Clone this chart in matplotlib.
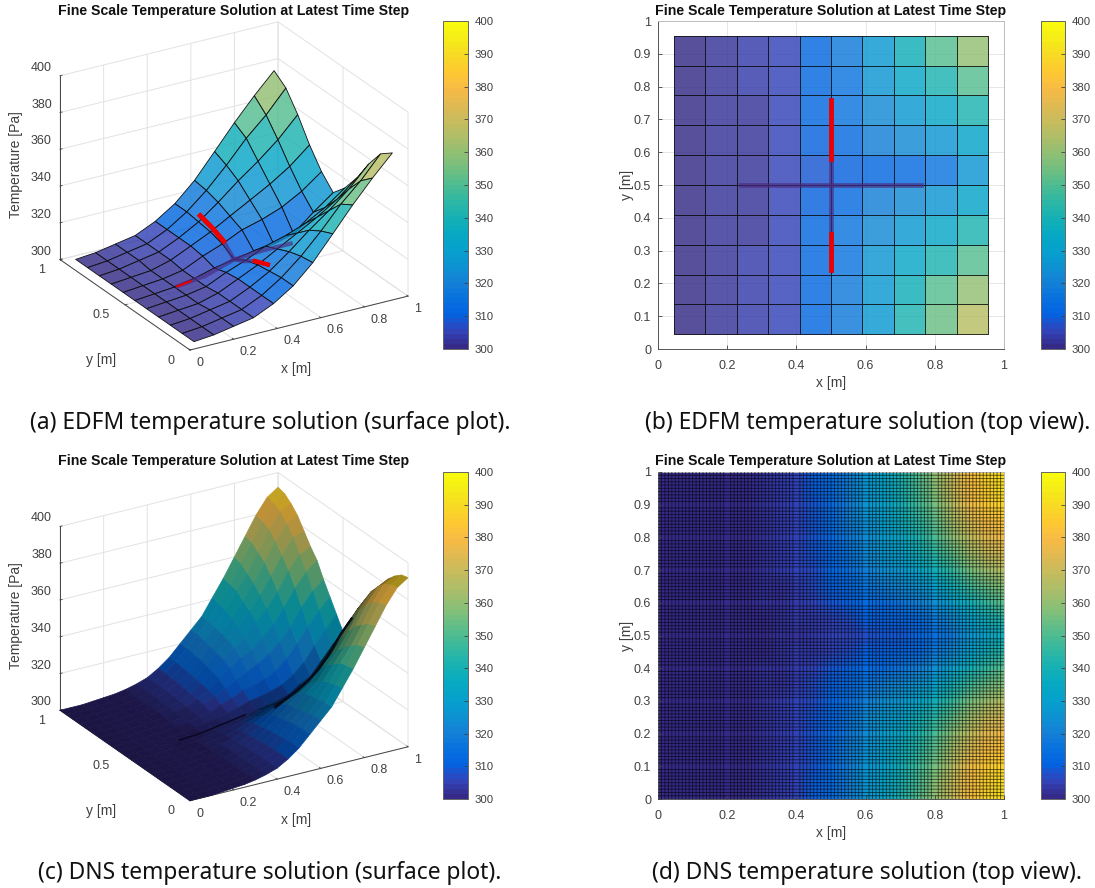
import numpy as np
import matplotlib
matplotlib.use("Agg")
from matplotlib import pyplot as plt
from matplotlib.colors import LinearSegmentedColormap, Normalize
from matplotlib.text import Text
from mpl_toolkits.mplot3d import proj3d

W, H = 1095, 888
plt.rcParams['font.family'] = ['Liberation Sans', 'DejaVu Sans']

# colour map anchors (parula)
parula = [(.2081, .1663, .5292), (.1959, .2645, .7279), (.0117, .3875, .8820), (.0329, .4430, .8720),
          (.0779, .5040, .8384), (.0488, .5772, .8228), (.0239, .6287, .8038), (.0267, .6642, .7607),
          (.0843, .6928, .7062), (.1801, .7177, .6424), (.3022, .7376, .5712), (.4420, .7481, .5033),
          (.5709, .7485, .4494), (.6834, .7435, .4044), (.7858, .7356, .3633), (.8824, .7274, .3217),
          (.9739, .7314, .2666), (.9955, .7861, .1967), (.9697, .8481, .1475), (.9598, .9218, .0948),
          (.9763, .9831, .0538)]
cmap = LinearSegmentedColormap.from_list("parula", parula, N=64)
norm = Normalize(300, 400)

# EDFM nodes, rows are y
edfm_x = [.045, .136, .227, .318, .41, .5, .59, .682, .773, .864, .955]
edfm_y = [.045, .136, .227, .318, .41, .5, .59, .682, .773, .864, .955]
edfm_t = [[301, 302, 304, 306, 311, 318, 328, 341, 354, 366, 377],
          [301, 302, 304, 306, 311, 318, 327, 338, 350, 360, 372],
          [301, 302, 304, 306, 311, 317, 325, 334, 342, 351, 362],
          [301, 302, 303, 306, 311, 316, 322, 328, 334, 341, 350],
          [301, 302, 303, 305, 310, 314, 319, 322, 326, 332, 340],
          [301, 302, 303, 305, 308, 310, 312, 313, 316, 325, 333],
          [301, 302, 303, 305, 310, 314, 319, 322, 326, 332, 340],
          [301, 302, 303, 306, 311, 316, 322, 328, 334, 341, 350],
          [301, 302, 304, 306, 311, 317, 325, 334, 342, 351, 362],
          [301, 302, 304, 306, 311, 318, 327, 338, 350, 360, 372],
          [301, 302, 304, 306, 311, 318, 328, 341, 354, 366, 377]]

# fractures
frac_h_x = [.24, .37, .5, .63, .76]
frac_h_t = [303, 305, 310, 311, 311]
frac_v_y = [.24, .34, .42, .5, .58, .67, .76]
frac_v_t = [320, 317, 313, 310, 316, 319, 321]

# DNS nodes read at 0.05 steps, lower half in y (the field is mirrored about y=0.5)
dns_x = [0, .05, .1, .15, .2, .25, .3, .35, .4, .45, .5, .55, .6, .65, .7, .75, .8, .85, .9, .95, 1]
dns_y = [0, .05, .1, .15, .2, .25, .3, .35, .4, .45, .5, .55, .6, .65, .7, .75, .8, .85, .9, .95, 1]
dns_low = [[300, 300, 300, 300.5, 301, 301.5, 302.5, 304, 306, 309.5, 314, 320, 326, 332, 341, 350, 360, 370, 380, 388, 392],
           [300, 300, 300, 300.5, 301, 301.5, 302.5, 304, 306, 309.5, 314, 320, 326, 332, 340, 349, 359, 369, 379, 387, 391],
           [300, 300, 300, 300.5, 301, 301.5, 302.5, 304, 306, 309, 313.5, 319.5, 325, 331, 339, 348, 356, 366, 377, 385, 388],
           [300, 300, 300, 300.5, 301, 301.5, 302.5, 304, 306, 309, 313, 319, 324, 330, 337, 345, 353, 363, 373, 381, 384],
           [300, 300, 300, 300.5, 301, 301.5, 302.5, 303.5, 305.5, 308.5, 312.5, 318, 323, 329, 334, 342, 349, 358, 368, 376, 378],
           [300, 300, 300, 300.5, 301, 301.5, 302.5, 303.5, 305.5, 308, 312, 317, 322, 327, 331, 338, 344, 352, 362, 369, 372],
           [300, 300, 300, 300.5, 301, 301.5, 302, 303.5, 305, 307.5, 311, 315.5, 320, 324, 327, 332, 338, 346, 355, 362, 367],
           [300, 300, 300, 300.5, 301, 301.5, 302, 303, 304.5, 307, 310, 313, 316, 319, 322, 326, 331, 338, 347, 354, 359],
           [300, 300, 300, 300.5, 301, 301, 302, 303, 304, 305.5, 308, 310, 313, 314, 316, 319, 324, 331, 339, 346, 352],
           [300, 300, 300, 300.5, 300.5, 301, 301.5, 302.5, 303.5, 304.5, 306, 307.5, 309.5, 310.5, 312, 314, 318, 323, 331, 338, 345],
           [300, 300, 300, 300.5, 300.5, 301, 301.5, 302, 303, 304, 305, 306, 307, 308, 309, 311, 315, 318, 325, 332, 338]]

title = "Fine Scale Temperature Solution at Latest Time Step"
captions = ["(a) EDFM temperature solution (surface plot).", "(b) EDFM temperature solution (top view).",
            "(c) DNS temperature solution (surface plot).", "(d) DNS temperature solution (top view)."]
temp_ticks = list(range(300, 401, 10))
grey = "#404040"

edfm_t = np.array(edfm_t, float)
dns_low = np.array(dns_low, float)
dns_t = np.vstack([dns_low, dns_low[-2::-1]])

fig = plt.figure(figsize=(W / 100, H / 100), dpi=100)


def px_rect(x0, y0, x1, y1):
    return [x0 / W, 1 - y1 / H, (x1 - x0) / W, (y1 - y0) / H]


def add_title(ax, cx, cy):
    t = ax.set_title(title, fontsize=10.2, fontweight="bold", y=1, color="#111111")
    t.set_transform(fig.transFigure)
    t.set_position((cx / W, 1 - cy / H))
    t.set_verticalalignment("center")


def add_cbar(x0, y0, x1, y1):
    cax = fig.add_axes(px_rect(x0, y0, x1, y1))
    sm = plt.cm.ScalarMappable(norm=norm, cmap=cmap)
    cb = fig.colorbar(sm, cax=cax, ticks=temp_ticks)
    cb.ax.tick_params(direction="in", length=3, width=.6, labelsize=8.2, colors=grey, pad=5)
    cb.outline.set_edgecolor("#666666")
    cb.outline.set_linewidth(.7)


def pin_label(ax, label, cx, cy):
    # axis3d puts its label in data coords on every draw, so convert the pixel spot at that moment
    def place(p):
        Text.set_position(label, ax.transData.inverted().transform((cx, H - cy)))
    label.set_position = place


def add_3d(ox, oy):
    ax = fig.add_axes(px_rect(0, 0, 500, 500), projection="3d", proj_type="ortho", computed_zorder=False)
    ax.set_facecolor("none")
    ax.view_init(elev=24.5, azim=-120.8)
    ax.set_box_aspect((1, 1, .796))
    ax.set_xlim(0, 1, view_margin=0)
    ax.set_ylim(0, 1, view_margin=0)
    ax.set_zlim(300, 400, view_margin=0)
    ax.set_xticks([0, .2, .4, .6, .8, 1], ["0", "0.2", "0.4", "0.6", "0.8", "1"])
    ax.set_yticks([0, .5, 1], ["0", "0.5", "1"])
    ax.set_zticks([300, 320, 340, 360, 380, 400])
    ax.tick_params(labelsize=9, colors=grey, pad=0)
    ax.tick_params(axis="x", pad=-1)
    ax.tick_params(axis="y", pad=2.5)
    for a in (ax.xaxis, ax.yaxis, ax.zaxis):
        a.set_pane_color((1, 1, 1, 0))
        a.pane.set_edgecolor("#dddddd")
        a.line.set_color("#444444")
        a.line.set_linewidth(.7)
        a._axinfo["grid"].update(color="#e2e2e2", linewidth=.7)
        a._axinfo["tick"].update(inward_factor=0, outward_factor=.12)
        a._axinfo["tick"]["linewidth"] = {True: .6, False: .5}
        a.set_rotate_label(False)
    plt.setp(ax.get_xticklabels(), ha="left", va="center")
    plt.setp(ax.get_yticklabels(), ha="right", va="bottom")
    plt.setp(ax.get_zticklabels(), va="bottom")
    ax.set_xlabel("x [m]", fontsize=10, color=grey, rotation=0)
    ax.set_ylabel("y [m]", fontsize=10, color=grey, rotation=0)
    ax.set_zlabel("Temperature [Pa]", fontsize=10, color=grey, rotation=90)
    pin_label(ax, ax.xaxis.label, 296, oy + 19)
    pin_label(ax, ax.yaxis.label, 101, oy + 10)
    pin_label(ax, ax.zaxis.label, 16, oy - 185)
    # move and scale the box so the floor corners land where they should
    size = 500.0
    for i in range(3):
        ax.apply_aspect()
        M = ax.get_proj()
        x0, y0, _ = proj3d.proj_transform(0, 0, 300, M)
        x1, y1, _ = proj3d.proj_transform(1, 0, 300, M)
        p0 = ax.transData.transform((x0, y0))
        p1 = ax.transData.transform((x1, y1))
        size *= np.hypot(218, 54) / np.hypot(*(p1 - p0))
        pos = ax.get_position(original=True)
        left = pos.x0 * W
        bottom = pos.y0 * H
        ax.set_position([left / W, bottom / H, size / W, size / H])
        ax.apply_aspect()
        p0 = ax.transData.transform((x0, y0))
        left += ox - p0[0]
        bottom += (H - oy) - p0[1]
        ax.set_position([left / W, bottom / H, size / W, size / H])
    return ax


def style_2d(ax):
    ax.set_xlim(0, 1)
    ax.set_ylim(0, 1)
    ax.set_xticks([0, .2, .4, .6, .8, 1], ["0", "0.2", "0.4", "0.6", "0.8", "1"])
    ax.set_yticks(np.arange(11) / 10, ["0", "0.1", "0.2", "0.3", "0.4", "0.5", "0.6", "0.7", "0.8", "0.9", "1"])
    ax.tick_params(direction="in", length=3, width=.6, labelsize=9, colors=grey, pad=5)
    ax.tick_params(axis="x", pad=8)
    ax.grid(True, color="#e6e6e6", linewidth=.7)
    ax.set_axisbelow(True)
    ax.set_xlabel("x [m]", fontsize=10, color=grey, labelpad=3)
    ax.set_ylabel("y [m]", fontsize=10, color=grey, labelpad=0)
    for name, s in ax.spines.items():
        s.set_linewidth(.7)
        s.set_color("#555555" if name in ("left", "bottom") else "#bbbbbb")


# (a) EDFM surface
ax = add_3d(190, 350)
X, Y = np.meshgrid(edfm_x, edfm_y)
cols = cmap(norm(edfm_t))
cols[..., 3] = .82
surf = ax.plot_surface(X, Y, edfm_t, facecolors=cols, rstride=1, cstride=1, shade=False, linewidth=.6)
surf.set_edgecolor("#111111")
ax.plot(frac_h_x, [.5] * 5, frac_h_t, color="#4a2a80", alpha=.65, lw=3, zorder=5)
ax.plot([.5] * 7, frac_v_y, frac_v_t, color="#4a2a80", alpha=.65, lw=3, zorder=5)
ax.plot([.5] * 2, frac_v_y[:2], frac_v_t[:2], color="#ee0000", lw=3.2, zorder=6)
ax.plot([.5] * 3, frac_v_y[-3:], frac_v_t[-3:], color="#ee0000", lw=3.6, zorder=6)
ax.plot([.24, .3], [.5, .5], [303, 304], color="#ee0000", lw=1.5, zorder=6)
add_title(ax, 234, 11)
add_cbar(443, 21, 468, 349)

# (b) EDFM top view
ax = fig.add_axes(px_rect(658, 21, 1004, 349))
ax.pcolormesh(edfm_x, edfm_y, edfm_t[:-1, :-1], cmap=cmap, norm=norm, alpha=.82, edgecolors="#111111", linewidth=.6)
ax.plot(frac_h_x, [.5] * 5, color="#4a2a80", alpha=.65, lw=3.4)
ax.plot([.5] * 7, frac_v_y, color="#4a2a80", alpha=.65, lw=3.4)
ax.plot([.5, .5], [frac_v_y[0], .35], color="#ee0000", lw=3.4)
ax.plot([.5, .5], [.58, frac_v_y[-1]], color="#ee0000", lw=3.4)
style_2d(ax)
add_title(ax, 831, 11)
add_cbar(1041, 21, 1065, 349)

# (c) DNS surface
ax = add_3d(190, 800.7)
X, Y = np.meshgrid(dns_x, dns_y)
cols = cmap(norm(dns_t))
# the black mesh is so dense that a cell looks darker the smaller it projects on screen
Ty, Tx = np.gradient(dns_t, dns_y, dns_x)
area = 218 * (93 + 1.84 * Ty) + 130 * (54 + 1.84 * Tx)
shade = np.clip(.5 * np.sqrt(np.clip(area, 0, None) / (218 * 93 + 130 * 54)), .05, .78)
cols[..., :3] *= shade[..., None]
ax.plot_surface(X, Y, dns_t, facecolors=cols, rstride=1, cstride=1, shade=False, linewidth=.5)
ax.plot(dns_x[5:12], [.5] * 7, dns_t[10, 5:12], color="#0a0820", lw=1.1, zorder=5)
ax.plot(dns_x[12:20], [.35] * 8, dns_t[7, 12:20], color="#050510", alpha=.85, lw=1.8, zorder=5)
add_title(ax, 234, 461)
add_cbar(443, 472, 468, 799)

# (d) DNS top view, mesh lines every 0.01 as minor grid
ax = fig.add_axes(px_rect(658, 472, 1004, 799))
ax.pcolormesh(dns_x, dns_y, dns_t, cmap=cmap, norm=norm, shading="gouraud")
style_2d(ax)
ax.grid(False)
ax.set_xticks(np.arange(101) / 100, minor=True)
ax.set_yticks(np.arange(101) / 100, minor=True)
ax.tick_params(which="minor", length=0)
ax.grid(True, which="minor", color="k", linewidth=.7, alpha=.55)
for tick in ax.xaxis.get_minor_ticks() + ax.yaxis.get_minor_ticks():
    tick.gridline.set_snap(False)
ax.set_axisbelow(False)
add_title(ax, 831, 461)
add_cbar(1041, 472, 1065, 799)

for cap, cx, cy in zip(captions, [270, 867.5, 270, 867.5], [423, 423, 873, 873]):
    fig.text(cx / W, 1 - cy / H, cap, ha="center", va="center", fontsize=16.4, family=["Noto Sans", "DejaVu Sans"], color="#111111")

fig.savefig("out.png", dpi=100)
